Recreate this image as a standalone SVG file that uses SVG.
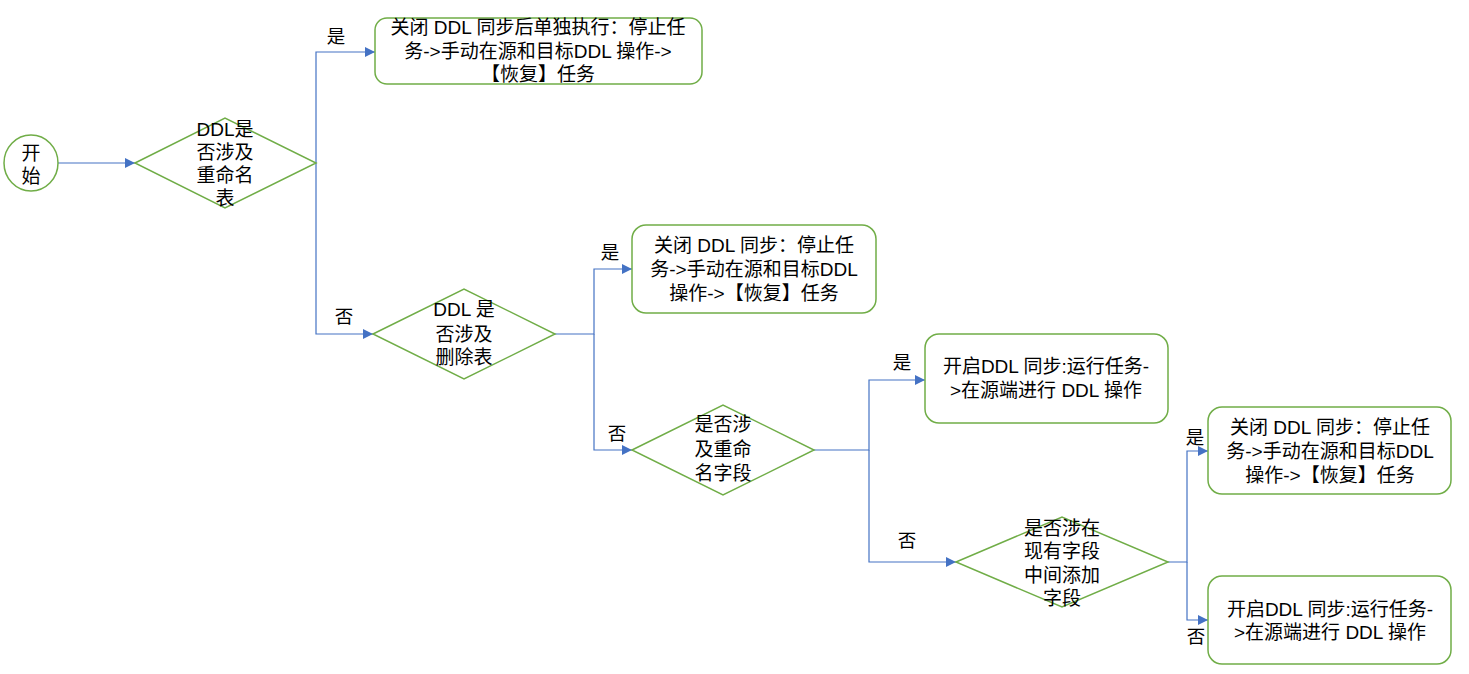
<svg xmlns="http://www.w3.org/2000/svg" width="1469" height="674" viewBox="0 0 1469 674">
<defs>
<marker id="arr" viewBox="0 0 10 10" refX="10" refY="5" markerWidth="10" markerHeight="10" markerUnits="userSpaceOnUse" orient="auto">
<path d="M0,0 L10,5 L0,10 z" fill="#4472C4"/>
</marker>
<style>
.node{fill:#FFFFFF;stroke:#70AD47;stroke-width:1.5}
.conn{fill:none;stroke:#4472C4;stroke-width:1.2}
text{font-family:"Liberation Sans","Noto Sans CJK SC",sans-serif;fill:#000000;text-anchor:middle}
.t{font-size:19px}
.lbl{font-size:18.5px}
</style>
</defs>
<rect width="1469" height="674" fill="#FFFFFF"/>
<g id="connectors">
<path class="conn" d="M58,163 H135" marker-end="url(#arr)"/>
<path class="conn" d="M316,163 V52 H375" marker-end="url(#arr)"/>
<path class="conn" d="M316,163 V334 H373" marker-end="url(#arr)"/>
<path class="conn" d="M555,334 H594 V269 H632" marker-end="url(#arr)"/>
<path class="conn" d="M594,334 V450 H632" marker-end="url(#arr)"/>
<path class="conn" d="M814,450 H869 V380 H925" marker-end="url(#arr)"/>
<path class="conn" d="M869,450 V562 H956" marker-end="url(#arr)"/>
<path class="conn" d="M1168,562 H1187 V451 H1208" marker-end="url(#arr)"/>
<path class="conn" d="M1187,562 V620 H1208" marker-end="url(#arr)"/>
<text class="lbl" x="336" y="43">是</text>
<text class="lbl" x="344" y="323">否</text>
<text class="lbl" x="610" y="259">是</text>
<text class="lbl" x="617" y="440">否</text>
<text class="lbl" x="902" y="369">是</text>
<text class="lbl" x="907" y="547">否</text>
<text class="lbl" x="1195" y="444">是</text>
<text class="lbl" x="1196" y="643">否</text>
</g>
<g id="start">
<ellipse class="node" cx="31" cy="163" rx="27" ry="28"/>
<text class="t" x="31" y="160">开<tspan x="31" dy="23">始</tspan></text>
</g>
<g id="d1">
<polygon class="node" points="135,163 225,118 316,163 225,208"/>
<text class="t" x="225" y="136">DDL是<tspan x="225" dy="23">否涉及</tspan><tspan x="225" dy="23">重命名</tspan><tspan x="225" dy="23">表</tspan></text>
</g>
<g id="b1">
<rect class="node" x="375" y="18" width="327" height="66" rx="12"/>
<text class="t" x="538" y="34">关闭 DDL 同步后单独执行：停止任<tspan x="538" dy="24">务-&gt;手动在源和目标DDL 操作-&gt;</tspan><tspan x="538" dy="23">【恢复】任务</tspan></text>
</g>
<g id="d2">
<polygon class="node" points="373,334 464,289 555,334 464,379"/>
<text class="t" x="464" y="316">DDL 是<tspan x="464" dy="24.5">否涉及</tspan><tspan x="464" dy="23.5">删除表</tspan></text>
</g>
<g id="b2">
<rect class="node" x="632" y="225" width="244" height="88" rx="14"/>
<text class="t" x="754" y="252">关闭 DDL 同步：停止任<tspan x="754" dy="24">务-&gt;手动在源和目标DDL</tspan><tspan x="754" dy="24">操作-&gt;【恢复】任务</tspan></text>
</g>
<g id="d3">
<polygon class="node" points="632,450 723,405 814,450 723,495"/>
<text class="t" x="723" y="431">是否涉<tspan x="723" dy="24.5">及重命</tspan><tspan x="723" dy="24">名字段</tspan></text>
</g>
<g id="b3">
<rect class="node" x="925" y="334" width="243" height="89" rx="14"/>
<text class="t" x="1046" y="373">开启DDL 同步:运行任务-<tspan x="1046" dy="24">&gt;在源端进行 DDL 操作</tspan></text>
</g>
<g id="d4">
<polygon class="node" points="956,562 1062,517 1168,562 1062,607"/>
<text class="t" x="1062" y="535">是否涉在<tspan x="1062" dy="23">现有字段</tspan><tspan x="1062" dy="24">中间添加</tspan><tspan x="1062" dy="23">字段</tspan></text>
</g>
<g id="b4">
<rect class="node" x="1208" y="407" width="243" height="87" rx="14"/>
<text class="t" x="1330" y="434">关闭 DDL 同步：停止任<tspan x="1330" dy="24">务-&gt;手动在源和目标DDL</tspan><tspan x="1330" dy="24">操作-&gt;【恢复】任务</tspan></text>
</g>
<g id="b5">
<rect class="node" x="1208" y="576" width="243" height="88" rx="14"/>
<text class="t" x="1330" y="616">开启DDL 同步:运行任务-<tspan x="1330" dy="23">&gt;在源端进行 DDL 操作</tspan></text>
</g>
</svg>
